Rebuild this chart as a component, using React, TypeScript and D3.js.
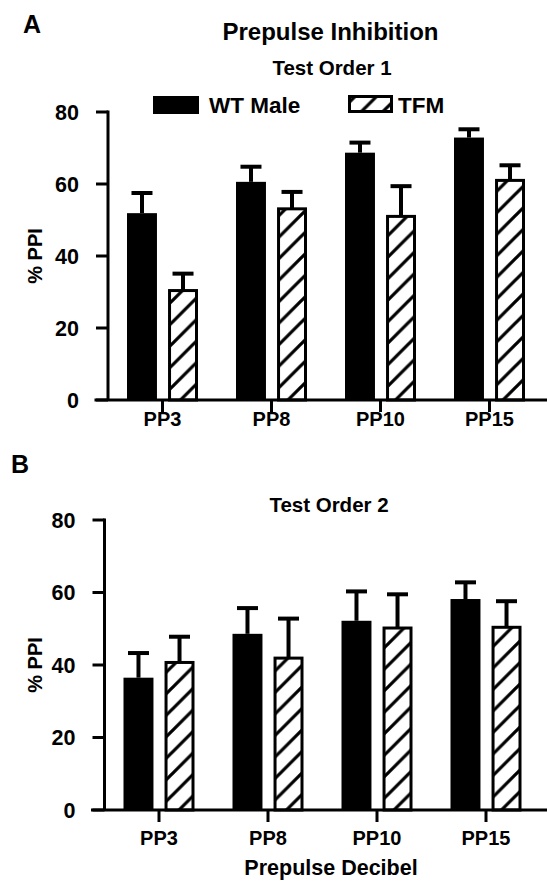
import React from "react";
import * as d3 from "d3";

const categories = ["PP3", "PP8", "PP10", "PP15"];
const yTicks = [0, 20, 40, 60, 80];

const order1WT = [51.9, 60.6, 68.7, 72.9];
const order1WTErr = [5.6, 4.2, 2.8, 2.3];
const order1TFM = [30.4, 53.1, 51.0, 61.0];
const order1TFMErr = [4.7, 4.7, 8.4, 4.2];

const order2WT = [36.5, 48.6, 52.2, 58.2];
const order2WTErr = [6.8, 7.1, 8.1, 4.6];
const order2TFM = [40.7, 41.9, 50.2, 50.4];
const order2TFMErr = [7.1, 10.9, 9.3, 7.2];

const FONT = "'Liberation Sans', Arial, Helvetica, sans-serif";

type PanelProps = {
  left: number;
  yZero: number;
  yTop: number;
  wt: number[];
  wtErr: number[];
  tfm: number[];
  tfmErr: number[];
  title: string;
  titleX: number;
  titleY: number;
  labelY: number;
};

function Panel(p: PanelProps) {
  const x = d3.scaleBand<string>().domain(categories).range([p.left, p.left + 436]).padding(0);
  const y = d3.scaleLinear().domain([0, 80]).range([p.yZero, p.yTop]);
  const sub = d3.scaleBand<string>().domain(["WT", "TFM"]).range([-35.5, 35.5]).paddingInner(0.27).paddingOuter(0);
  const bw = sub.bandwidth();
  const axisX = p.left;
  return (
    <g>
      <text x={p.titleX} y={p.titleY} textAnchor="middle" fontSize={20.5} fontWeight="bold" fontFamily={FONT}>
        {p.title}
      </text>
      <text
        transform={`translate(42,${(p.yZero + p.yTop) / 2}) rotate(-90)`}
        textAnchor="middle"
        fontSize={20}
        fontWeight="bold"
        fontFamily={FONT}
      >
        % PPI
      </text>
      {yTicks.map((t) => (
        <g key={t}>
          <line x1={axisX - 12} x2={axisX} y1={y(t)} y2={y(t)} stroke="#000" strokeWidth={3} />
          <text x={axisX - 29} y={y(t) + 7.5} textAnchor="end" fontSize={21.5} fontWeight="bold" fontFamily={FONT}>
            {t}
          </text>
        </g>
      ))}
      {categories.map((c, i) => {
        const cx = (x(c) as number) + x.bandwidth() / 2;
        const wx = cx + (sub("WT") as number);
        const tx = cx + (sub("TFM") as number);
        const items = [
          { xx: wx, v: p.wt[i], e: p.wtErr[i], hatch: false },
          { xx: tx, v: p.tfm[i], e: p.tfmErr[i], hatch: true },
        ];
        return (
          <g key={c}>
            {items.map((it, j) => {
              const mid = it.xx + bw / 2;
              return (
                <g key={j}>
                  <line x1={mid} x2={mid} y1={y(it.v)} y2={y(it.v + it.e)} stroke="#000" strokeWidth={4} />
                  <line x1={mid - 10.5} x2={mid + 10.5} y1={y(it.v + it.e)} y2={y(it.v + it.e)} stroke="#000" strokeWidth={4} />
                  {it.hatch ? (
                    <rect
                      x={it.xx + 1.5}
                      y={y(it.v)}
                      width={bw - 3}
                      height={p.yZero - y(it.v)}
                      fill="url(#hatch)"
                      stroke="#000"
                      strokeWidth={3}
                    />
                  ) : (
                    <rect x={it.xx} y={y(it.v)} width={bw} height={p.yZero - y(it.v)} fill="#000" />
                  )}
                </g>
              );
            })}
            <line x1={cx} x2={cx} y1={p.yZero} y2={p.yZero + 12} stroke="#000" strokeWidth={3} />
            <text x={cx} y={p.labelY} textAnchor="middle" fontSize={20} fontWeight="bold" fontFamily={FONT}>
              {c}
            </text>
          </g>
        );
      })}
      <line x1={axisX} x2={axisX} y1={p.yTop - 1.5} y2={p.yZero} stroke="#000" strokeWidth={3} />
      <line x1={axisX - 13.5} x2={547} y1={p.yZero} y2={p.yZero} stroke="#000" strokeWidth={3} />
    </g>
  );
}

export default function App() {
  return (
    <svg
      width={547}
      height={881}
      viewBox="0 0 547 881"
      style={{ position: "absolute", left: 0, top: 0, background: "#fff" }}
    >
      <defs>
        <pattern id="hatch" patternUnits="userSpaceOnUse" width={21.5} height={21.5}>
          <rect width={21.5} height={21.5} fill="#fff" />
          <path d="M0,21.5 L21.5,0 M-5,5 L5,-5 M16.5,26.5 L26.5,16.5" stroke="#000" strokeWidth={3.2} />
        </pattern>
      </defs>
      <rect width={547} height={881} fill="#fff" />
      <text x={23} y={33} fontSize={25} fontWeight="bold" fontFamily={FONT}>A</text>
      <text x={11} y={473} fontSize={25} fontWeight="bold" fontFamily={FONT}>B</text>
      <text x={330.5} y={40} textAnchor="middle" fontSize={24} fontWeight="bold" fontFamily={FONT}>
        Prepulse Inhibition
      </text>
      <rect x={153} y={96} width={46} height={18} fill="#000" />
      <text x={209} y={113} fontSize={22.5} fontWeight="bold" fontFamily={FONT}>WT Male</text>
      <rect x={349.5} y={96.5} width={42} height={15} fill="url(#hatch)" stroke="#000" strokeWidth={3} />
      <text x={398} y={113} fontSize={22.5} fontWeight="bold" fontFamily={FONT}>TFM</text>
      <Panel
        left={108}
        yZero={400}
        yTop={112}
        wt={order1WT}
        wtErr={order1WTErr}
        tfm={order1TFM}
        tfmErr={order1TFMErr}
        title="Test Order 1"
        titleX={332}
        titleY={75}
        labelY={426}
      />
      <Panel
        left={104.5}
        yZero={810}
        yTop={520}
        wt={order2WT}
        wtErr={order2WTErr}
        tfm={order2TFM}
        tfmErr={order2TFMErr}
        title="Test Order 2"
        titleX={329}
        titleY={512}
        labelY={845}
      />
      <text x={331} y={875} textAnchor="middle" fontSize={21.5} fontWeight="bold" fontFamily={FONT}>
        Prepulse Decibel
      </text>
    </svg>
  );
}
